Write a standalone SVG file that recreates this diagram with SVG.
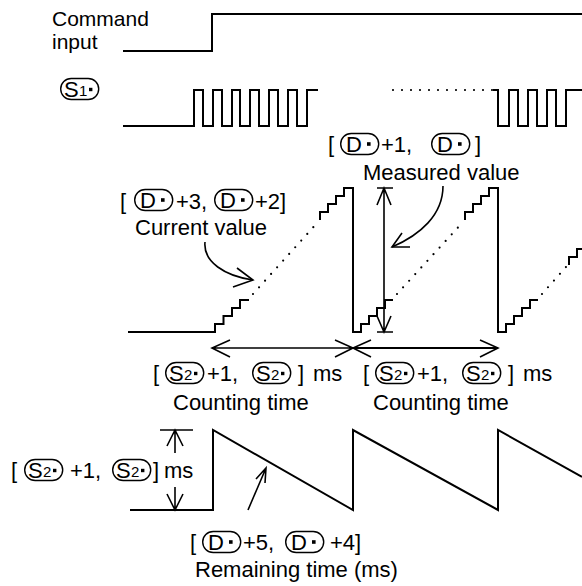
<svg xmlns="http://www.w3.org/2000/svg" width="582" height="586" viewBox="0 0 582 586">
<style>
.w{fill:none;stroke:#000;stroke-width:2}
.a{fill:none;stroke:#000;stroke-width:1.6}
.d{fill:none;stroke:#000;stroke-width:2.2;stroke-dasharray:0 9;stroke-linecap:round}
text{font-family:"Liberation Sans",Arial,sans-serif;font-size:22px;fill:#000}
.o{fill:none;stroke:#000;stroke-width:1.4}
.sub{font-size:15px}
.t{font-size:21px}
</style>
<defs>
<g id="opD"><rect class="o" x="0.7" y="-10.5" width="38" height="21" rx="10.5"/><text x="6" y="8">D</text><rect x="27" y="-1.8" width="3.6" height="3.6"/></g>
<g id="opS2"><rect class="o" x="0.7" y="-10.5" width="38" height="21" rx="10.5"/><text x="4" y="8">S</text><text class="sub" x="19" y="7">2</text><rect x="29" y="-1.2" width="3.4" height="3.4"/></g>
<g id="opS1"><rect class="o" x="0.7" y="-10.5" width="38" height="21" rx="10.5"/><text x="4" y="8">S</text><text class="sub" x="19" y="7">1</text><rect x="29" y="-1.2" width="3.4" height="3.4"/></g>
</defs>

<g id="command-input">
<text class="t" x="52" y="26">Command</text>
<text class="t" x="52" y="49">input</text>
<path class="w" d="M123,51 H212 V14 H582"/>
</g>

<g id="s1-pulses">
<use href="#opS1" x="60" y="89"/>
<path class="w" d="M123,126 H194 V90 H203 V126 H213 V90 H222 V126 H232 V90 H240 V126 H250 V90 H259 V126 H269 V90 H278 V126 H288 V90 H297 V126 H307 V90 H318"/>
<path class="d" d="M393,90 H493"/>
<path class="w" d="M493,90 H498 V126 H509 V90 H518 V126 H528 V90 H537 V126 H547 V90 H556 V126 H566 V90 H582"/>
</g>

<g id="current-value-wave">
<path class="w" d="M128,332 H215 V324 H223.5 V316 H232 V308 H240 V300 H249"/>
<path class="d" d="M253,294 L318,222"/>
<path class="w" d="M320,220 V212 H328 V204 H336 V196 H344 V188 H353 V332 H361 V324 H369 V316 H377 V308 H385 V300 H393"/>
<path class="d" d="M397,294 L463,222"/>
<path class="w" d="M465,220 V212 H473 V204 H481 V196 H489 V188 H498 V332 H506 V324 H514 V316 H522 V308 H530 V300 H538"/>
<path class="d" d="M542,294 L566,267"/>
<path class="w" d="M569,265 V257 H577 V249 H582"/>
</g>

<g id="label-measured">
<text x="328" y="152">[</text>
<use href="#opD" x="340" y="144"/>
<text x="381" y="152">+1,</text>
<use href="#opD" x="431" y="144"/>
<text x="475" y="152">]</text>
<text x="363" y="180">Measured value</text>
</g>

<g id="label-current">
<text x="120" y="209">[</text>
<use href="#opD" x="134" y="200"/>
<text x="176" y="209">+3,</text>
<use href="#opD" x="214" y="200"/>
<text x="255" y="209">+2]</text>
<text x="135" y="235">Current value</text>
</g>

<g id="label-count1">
<text x="153" y="381">[</text>
<use href="#opS2" x="165" y="373"/>
<text x="207" y="381">+1,</text>
<use href="#opS2" x="252" y="373"/>
<text x="298" y="381">]</text>
<text x="313" y="381">ms</text>
<text x="173" y="410">Counting time</text>
</g>

<g id="label-count2">
<text x="363" y="381">[</text>
<use href="#opS2" x="375" y="373"/>
<text x="417" y="381">+1,</text>
<use href="#opS2" x="462" y="373"/>
<text x="508" y="381">]</text>
<text x="523" y="381">ms</text>
<text x="373" y="410">Counting time</text>
</g>

<g id="remaining-wave">
<path class="w" d="M130,510 H213 V430 L353,510 V430 L498,510 V430 L582,477"/>
</g>

<g id="label-period">
<text x="11" y="478">[</text>
<use href="#opS2" x="24" y="470"/>
<text x="70" y="478">+1,</text>
<use href="#opS2" x="112" y="470"/>
<text x="153" y="478">]</text>
<text x="164" y="478">ms</text>
</g>

<g id="label-remaining">
<text x="190" y="550">[</text>
<use href="#opD" x="202" y="542"/>
<text x="243" y="550">+5,</text>
<use href="#opD" x="285" y="542"/>
<text x="330" y="550">+4]</text>
<text x="195" y="577">Remaining time (ms)</text>
</g>

<g id="connectors">
<path class="a" d="M205,242 C203,262 225,276 253,280"/>
<path class="a" d="M237,268 L253,280 L233,287"/>
<path class="a" d="M443,186 C443,215 420,235 392,247"/>
<path class="a" d="M410,247 L392,247 L402,233"/>
<path class="a" d="M384,188 V332 M377,188 H393 M377,332 H393 M377,205 L384,188 L391,205 M377,316 L384,332 L391,316"/>
<path class="a" d="M212,348 H353 M230,340 L212,348 L230,357 M335,340 L353,348 L335,357"/>
<path class="w" d="M353,348 H498"/>
<path class="a" d="M371,340 L353,348 L371,357 M480,340 L498,348 L480,357"/>
<path class="a" d="M175,430 V453 M175,487 V510 M160,430 H193 M167,446 L175,430 L183,446 M167,494 L175,510 L183,494"/>
<path class="a" d="M248,510 L266,468 M256,479 L266,468 L265,483"/>
</g>
</svg>
